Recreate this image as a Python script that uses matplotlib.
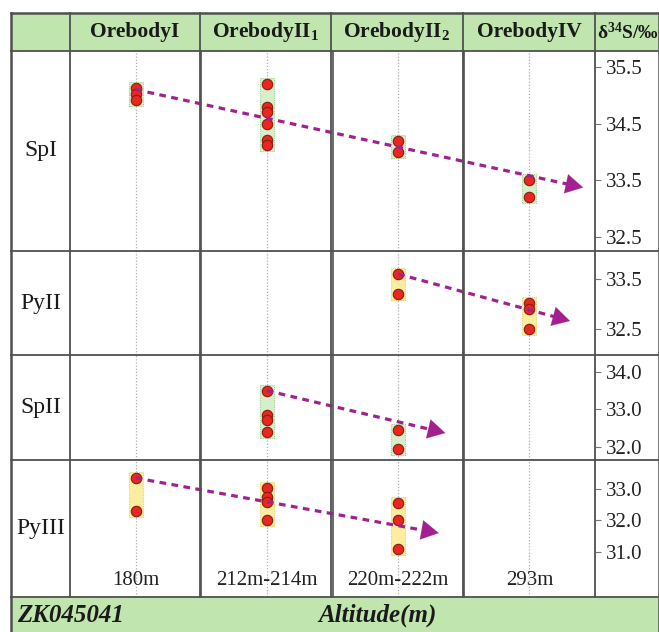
import matplotlib
matplotlib.use("Agg")
import numpy as np
import matplotlib.pyplot as plt
from matplotlib.lines import Line2D
from matplotlib.patches import Rectangle

plt.rcParams['font.family'] = ['Liberation Serif', 'DejaVu Serif']
plt.rcParams['mathtext.fontset'] = 'custom'
plt.rcParams['mathtext.rm'] = 'Liberation Serif'
plt.rcParams['mathtext.bf'] = 'Liberation Serif:bold'
plt.rcParams['mathtext.it'] = 'Liberation Serif:italic'

# ---------------- data ----------------
columns = ["OrebodyI", r"OrebodyII$_\mathbf{1}$", r"OrebodyII$_\mathbf{2}$", "OrebodyIV"]
altitudes = ["180m", "212m-214m", "220m-222m", "293m"]
rows = ["SpI", "PyII", "SpII", "PyIII"]
y_header = r"δ$^\mathbf{34}$S/‰"

spI_vals = {0: [35.13, 35.02, 34.92],
            1: [35.20, 34.79, 34.71, 34.50, 34.21, 34.12],
            2: [34.20, 34.00],
            3: [33.50, 33.20]}
pyII_vals = {2: [33.60, 33.20],
             3: [33.02, 32.90, 32.50]}
spII_vals = {1: [33.50, 32.84, 32.73, 32.40],
             2: [32.45, 31.95]}
pyIII_vals = {0: [33.35, 32.30],
              1: [33.03, 32.75, 32.60, 32.00],
              2: [32.55, 32.00, 31.10]}
values = [spI_vals, pyII_vals, spII_vals, pyIII_vals]

# trend arrows: (column position, delta34S) start -> end
trend_start = [(0, 35.10), (2, 33.60), (1, 33.50), (0, 33.35)]
trend_end = [(3.41, 33.37), (3.31, 32.66), (2.36, 32.37), (2.31, 31.60)]

yticks = [[32.5, 33.5, 34.5, 35.5], [32.5, 33.5], [32.0, 33.0, 34.0], [31.0, 32.0, 33.0]]
ylims = [(32.25, 35.78), (31.98, 34.06), (31.65, 34.45), (29.57, 33.92)]

# ---------------- layout (pixels) ----------------
W, H = 659, 632
fig = plt.figure(figsize=(W / 100, H / 100), dpi=100)

def fx(x):
    return x / W

def fy(y):
    return 1 - y / H

LEFT, LABEL_R, PLOT_R, RIGHT = 11, 70, 595, 659
TOP, HEAD_B, BAND_T, BOTTOM = 13, 51, 597, 632
row_edges = [51, 251, 355, 460, 597]
col_edges = [70, 200, 331, 463, 595]

GREEN = '#c0e5ae'
LINE = '#505050'
box_colors = ['#d6efca', '#fbeea0', '#d6efca', '#fbeea0']
box_edges = ['#9fd38a', '#e8d36a', '#9fd38a', '#e8d36a']
ARROW = '#a3218f'

# header band and bottom band
fig.add_artist(Rectangle((fx(LEFT), fy(HEAD_B)), fx(RIGHT) - fx(LEFT), fy(TOP) - fy(HEAD_B),
                         transform=fig.transFigure, facecolor=GREEN, edgecolor='none', zorder=0))
fig.add_artist(Rectangle((fx(LEFT), fy(BOTTOM)), fx(RIGHT) - fx(LEFT), fy(BAND_T) - fy(BOTTOM),
                         transform=fig.transFigure, facecolor=GREEN, edgecolor='none', zorder=0))

axes = []
for i in range(4):
    y0, y1 = row_edges[i], row_edges[i + 1]
    ax = fig.add_axes([fx(LABEL_R), fy(y1), fx(PLOT_R) - fx(LABEL_R), fy(y0) - fy(y1)])
    ax.set_xlim(-0.5, 3.5)
    ax.set_ylim(*ylims[i])
    ax.patch.set_alpha(0)
    for s in ax.spines.values():
        s.set_visible(False)
    ax.set_xticks([])
    ax.yaxis.tick_right()
    ax.set_yticks(yticks[i])
    ax.set_yticklabels([f"{t:.1f}" for t in yticks[i]])
    ax.tick_params(axis='y', direction='out', length=4, width=0.8, color='#777777',
                   labelsize=15, pad=4, labelcolor='#222222')
    # dotted centre lines
    for c in range(4):
        ax.axvline(c, color='#b0b0b0', lw=0.9, ls=(0, (1, 1.5)), zorder=1)
    # column separators
    for b in [0.5, 1.5, 2.5]:
        ax.axvline(b, color=LINE, lw=1.2, zorder=1)

    # pixel-to-data conversions
    ax_h_px = (y1 - y0)
    px_per_unit = ax_h_px / (ylims[i][1] - ylims[i][0])
    ypad = 6.0 / px_per_unit
    xhalf = 7.0 / ((PLOT_R - LABEL_R) / 4.0)

    for c, vals in values[i].items():
        lo, hi = min(vals), max(vals)
        ax.add_patch(Rectangle((c - xhalf, lo - ypad), 2 * xhalf, hi - lo + 2 * ypad,
                               facecolor=box_colors[i], edgecolor=box_edges[i],
                               lw=0.8, ls=(0, (1, 1)), zorder=2))
    for c, vals in values[i].items():
        ax.plot([c] * len(vals), vals, 'o', ms=7.5, mfc='#e8281e', mec='#8a1a12',
                mew=0.8, zorder=4, clip_on=False)

    (xs, ys), (xe, ye) = trend_start[i], trend_end[i]
    # dashed shaft
    p0 = ax.transData.transform((xs, ys))
    p1 = ax.transData.transform((xe, ye))
    u = (p1 - p0) / np.hypot(*(p1 - p0))
    base = ax.transData.inverted().transform(p1 - u * 12)
    ax.plot([xs, base[0]], [ys, base[1]], color=ARROW, lw=2.3,
            ls=(0, (2.1, 1.7)), dash_capstyle='butt', zorder=5)
    # solid head
    back_pt = -u * 17 * 72 / 100
    ax.annotate('', xy=(xe, ye), xytext=(back_pt[0], back_pt[1]), textcoords='offset points',
                arrowprops=dict(arrowstyle='-|>,head_length=1.25,head_width=0.7',
                                color=ARROW, lw=0.1, shrinkA=0, shrinkB=0,
                                mutation_scale=10),
                zorder=5)
    axes.append(ax)

# altitude labels inside last panel
for c, lab in enumerate(altitudes):
    axes[3].text(c, 0.12, lab, transform=axes[3].get_xaxis_transform(),
                 ha='center', va='center', fontsize=15, color='#222222', zorder=3)

# frame lines
def hline(y, x0, x1, lw=1.3):
    fig.add_artist(Line2D([fx(x0), fx(x1)], [fy(y), fy(y)], transform=fig.transFigure,
                          color=LINE, lw=lw, zorder=6))

def vline(x, y0, y1, lw=1.3):
    fig.add_artist(Line2D([fx(x), fx(x)], [fy(y0), fy(y1)], transform=fig.transFigure,
                          color=LINE, lw=lw, zorder=6))

hline(TOP, LEFT, RIGHT, lw=1.8)
for y in row_edges:
    hline(y, LEFT, RIGHT)
vline(LEFT, TOP, BOTTOM, lw=1.8)
vline(RIGHT - 0.5, TOP, BOTTOM, lw=1.8)
for x in col_edges:
    vline(x, TOP, BAND_T)

# header texts
for c, lab in enumerate(columns):
    xc = (col_edges[c] + col_edges[c + 1]) / 2
    fig.text(fx(xc), fy((TOP + HEAD_B) / 2), lab, ha='center', va='center',
             fontsize=15.5, fontweight='bold', color='#1a1a1a')
fig.text(fx((PLOT_R + RIGHT) / 2 + 1), fy((TOP + HEAD_B) / 2), y_header, ha='center', va='center',
         fontsize=14, fontweight='bold', color='#1a1a1a')

# row labels
for i, lab in enumerate(rows):
    yc = (row_edges[i] + row_edges[i + 1]) / 2
    fig.text(fx((LEFT + LABEL_R) / 2), fy(yc), lab, ha='center', va='center',
             fontsize=17, color='#1a1a1a')

# bottom band texts
fig.text(fx(17), fy((BAND_T + BOTTOM) / 2 + 1), "ZK045041", ha='left', va='center',
         fontsize=18, fontweight='bold', fontstyle='italic', color='#1a1a1a')
fig.text(fx(377), fy((BAND_T + BOTTOM) / 2 + 1), "Altitude(m)", ha='center', va='center',
         fontsize=18, fontweight='bold', fontstyle='italic', color='#1a1a1a')

fig.savefig('out.png', dpi=100)
